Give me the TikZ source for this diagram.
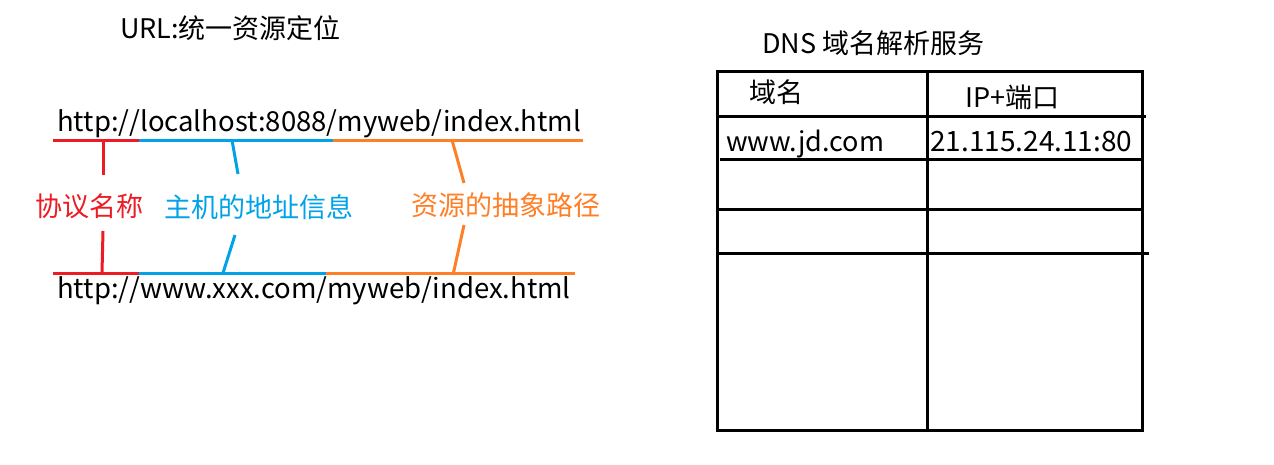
\documentclass[tikz,border=0pt]{standalone}
\usepackage{fontspec}
\setmainfont{Noto Sans CJK SC}
\definecolor{pred}{HTML}{ED1C24}
\definecolor{pblue}{HTML}{00A2E8}
\definecolor{porange}{HTML}{FF7F27}
\tikzset{
  txt/.style={inner sep=0pt, font=\fontsize{27}{31}\selectfont},
  ltxt/.style={inner sep=0pt, font=\fontsize{27.5}{31}\selectfont},
  seg/.style={line width=3pt},
  tab/.style={line width=3pt, line cap=rect},
}
\begin{document}
\begin{tikzpicture}[x=1pt,y=-1pt]
\useasboundingbox[fill=white] (0,0) rectangle (1274,464);
% titles
\node[txt, anchor=west] (t1) at (120,28) {URL:统一资源定位};
\node[txt, anchor=west] (t2) at (762,43) {DNS 域名解析服务};
% URLs
\node[ltxt, anchor=base west] (u1) at (57,131) {http://localhost:8088/myweb/index.html};
\node[ltxt, anchor=base west] (u2) at (57,298) {http://www.xxx.com/myweb/index.html};
% segment coordinates
\coordinate (r1a) at (53,140); \coordinate (r1b) at (139,140);
\coordinate (b1b) at (333,140); \coordinate (o1b) at (583,140);
\coordinate (r2a) at (53,273); \coordinate (r2b) at (139,273);
\coordinate (b2b) at (326,273); \coordinate (o2b) at (575,273);
\draw[seg, pred] (r1a) -- (r1b);
\draw[seg, pblue] (r1b) -- (b1b);
\draw[seg, porange] (b1b) -- (o1b);
\draw[seg, pred] (r2a) -- (r2b);
\draw[seg, pblue] (r2b) -- (b2b);
\draw[seg, porange] (b2b) -- (o2b);
% labels
\node[txt, anchor=west, text=pred] (l1) at (35,206) {协议名称};
\node[txt, anchor=west, text=pblue] (l2) at (164,207) {主机的地址信息};
\node[txt, anchor=west, text=porange] (l3) at (411,205) {资源的抽象路径};
% ticks
\coordinate (rt1) at (103,140); \coordinate (rt2) at (103,175);
\coordinate (rb1) at (103,231); \coordinate (rb2) at (102,273);
\coordinate (bt1) at (232,140); \coordinate (bt2) at (238,174);
\coordinate (bb1) at (235,235); \coordinate (bb2) at (223,273);
\coordinate (ot1) at (452,140); \coordinate (ot2) at (464,183);
\coordinate (ob1) at (464,225); \coordinate (ob2) at (453,275);
\draw[seg, pred] (rt1) -- (rt2);
\draw[seg, pred] (rb1) -- (rb2);
\draw[seg, pblue] (bt1) -- (bt2);
\draw[seg, pblue] (bb1) -- (bb2);
\draw[seg, porange] (ot1) -- (ot2);
\draw[seg, porange] (ob1) -- (ob2);
% table
\coordinate (tl) at (717,71); \coordinate (br) at (1142,430);
\draw[tab] (tl) rectangle (br);
\coordinate (m1) at (927,71); \coordinate (m2) at (927,430);
\draw[tab] (m1) -- (m2);
\coordinate (h1a) at (717,116); \coordinate (h1b) at (1144,116);
\coordinate (h2a) at (721,159); \coordinate (h2b) at (1142,159);
\coordinate (h3a) at (717,209); \coordinate (h3b) at (1142,209);
\coordinate (h4a) at (717,253); \coordinate (h4b) at (1147,253);
\draw[tab] (h1a) -- (h1b);
\draw[tab] (h2a) -- (h2b);
\draw[tab] (h3a) -- (h3b);
\draw[tab] (h4a) -- (h4b);
\node[txt, anchor=west] (c1) at (749,92) {域名};
\node[txt, anchor=west] (c2) at (965,97) {IP+端口};
\node[txt, anchor=base west] (c3) at (726,151) {www.jd.com};
\node[ltxt, anchor=base west, font=\fontsize{28}{31}\selectfont] (c4) at (930,151) {21.115.24.11:80};
\end{tikzpicture}
\end{document}
